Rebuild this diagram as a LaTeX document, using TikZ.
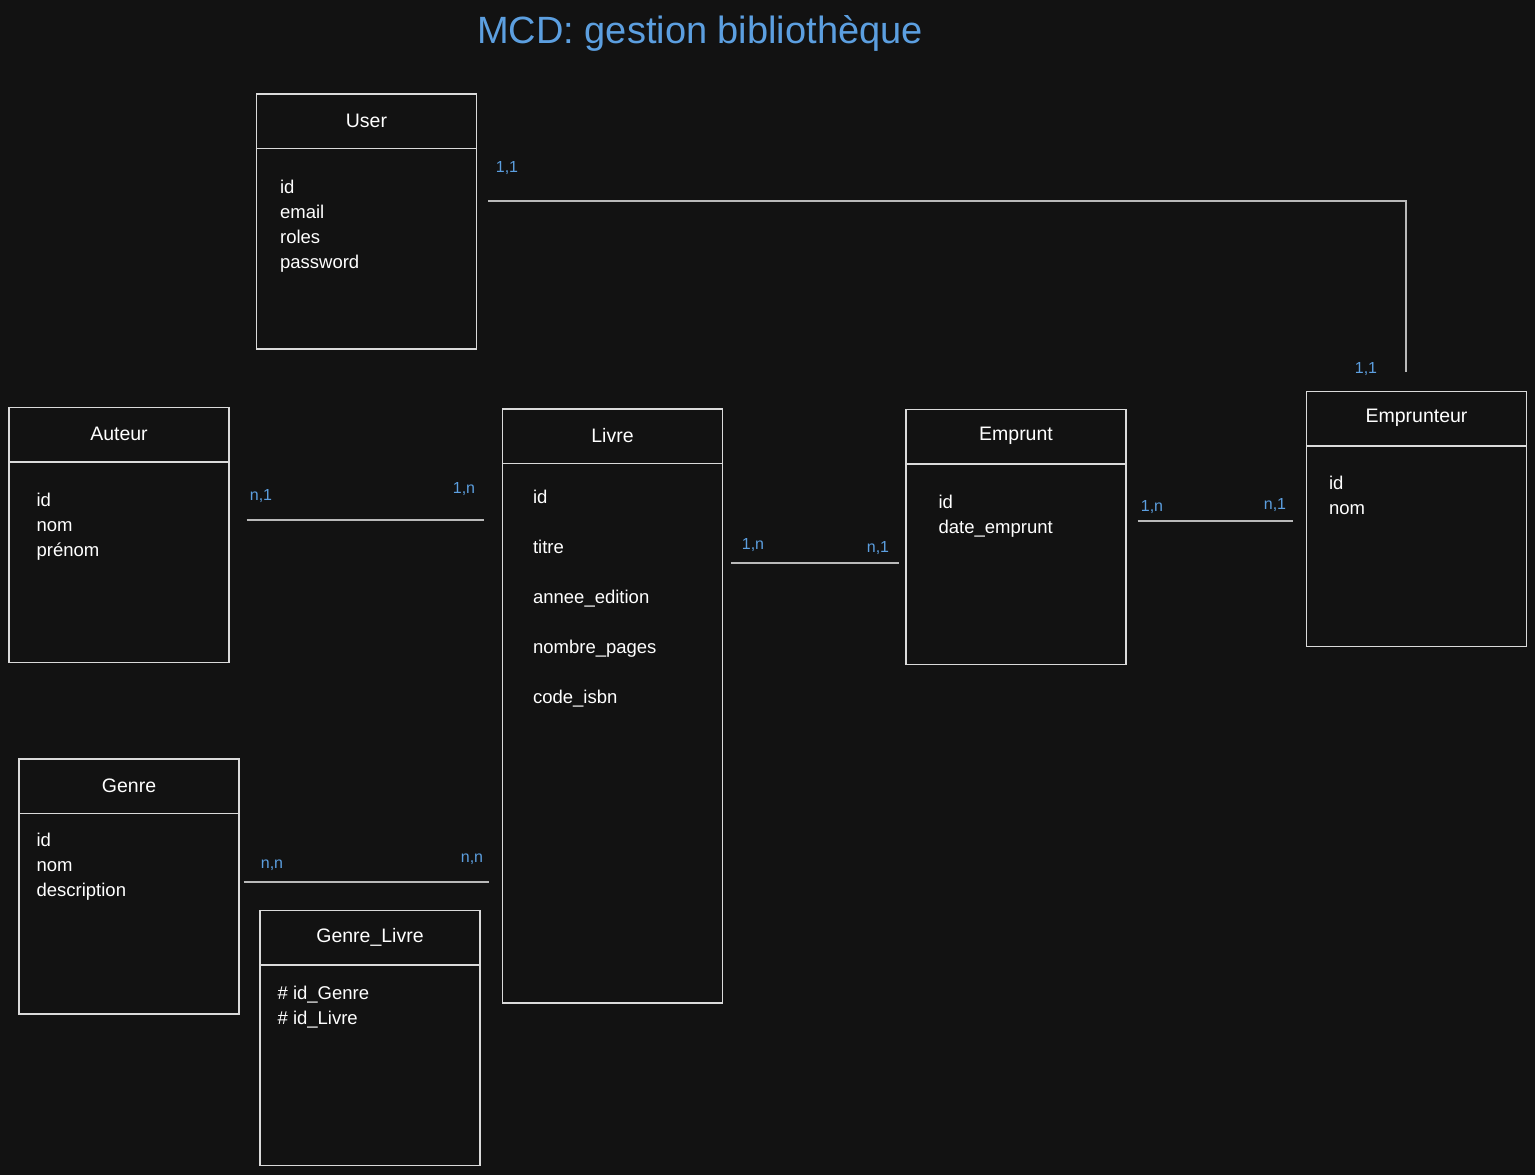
\documentclass[tikz,border=0pt]{standalone}
\usepackage{fontspec}
\setmainfont{Liberation Sans}
\usepackage{tikz}
\usetikzlibrary{positioning}
\definecolor{bgdark}{HTML}{121212}
\definecolor{chalk}{HTML}{DADADA}
\definecolor{skyblue}{HTML}{5C9FE0}

\begin{document}
\begin{tikzpicture}[x=1pt, y=-1pt,
  entity/.style={draw=chalk, line width=1.2pt, rectangle, inner sep=0pt, minimum width=220pt, minimum height=255pt},
  head/.style={text=white, inner sep=0pt, font=\fontsize{19.5}{22}\selectfont},
  attrs/.style={text=white, anchor=north west, inner sep=0pt, align=left, font=\fontsize{18.5}{25}\selectfont},
  rule/.style={draw=chalk, line width=1.2pt},
  link/.style={draw=chalk!85!black, line width=1.2pt},
  card/.style={text=skyblue, inner sep=0pt, font=\fontsize{16}{18}\selectfont}]

%dark background fixes the page
\fill[bgdark] (0,0) rectangle (1535,1175);
\useasboundingbox (0,0) rectangle (1535,1175);

%title
\node[text=skyblue, font=\fontsize{38}{44}\selectfont] (title) at (700,33) {MCD: gestion bibliothèque};

%entities
\node[entity] (user) at (366.5,221.5) {};
\node[entity] (auteur) at (119,535) {};
\node[entity, minimum height=594pt] (livre) at (612.5,706) {};
\node[entity] (emprunt) at (1016,537) {};
\node[entity] (emprunteur) at (1416.5,519) {};
\node[entity] (genre) at (129,886.5) {};
\node[entity] (genrelivre) at (370,1038) {};

%headers
\foreach \e/\t in {user/User, auteur/Auteur, livre/Livre, emprunt/Emprunt, emprunteur/Emprunteur, genre/Genre, genrelivre/Genre\_Livre} {
  \node[head] (\e-t) at ([yshift=-27pt]\e.north) {\t};
  \draw[rule] ([yshift=-55pt]\e.north west) -- ([yshift=-55pt]\e.north east);
}

%attributes
\node[attrs] (user-a) at ([xshift=24pt, yshift=-86pt]user.north west) {id\\email\\roles\\password};
\node[attrs] (auteur-a) at ([xshift=28pt, yshift=-86pt]auteur.north west) {id\\nom\\prénom};
\node[attrs, font=\fontsize{18.5}{50}\selectfont] (livre-a) at ([xshift=31pt, yshift=-81pt]livre.north west) {id\\titre\\annee\_edition\\nombre\_pages\\code\_isbn};
\node[attrs] (emprunt-a) at ([xshift=33pt, yshift=-86pt]emprunt.north west) {id\\date\_emprunt};
\node[attrs] (emprunteur-a) at ([xshift=23pt, yshift=-85pt]emprunteur.north west) {id\\nom};
\node[attrs] (genre-a) at ([xshift=18pt, yshift=-74pt]genre.north west) {id\\nom\\description};
\node[attrs] (genrelivre-a) at ([xshift=18pt, yshift=-76pt]genrelivre.north west) {\#\ id\_Genre\\\#\ id\_Livre};

%user -- emprunteur
\coordinate[above right=20.5pt and 11pt of user.east] (us-r);
\coordinate[above left=19pt and 10.5pt of emprunteur.north] (em-t);
\draw[link] (us-r) -- (us-r -| em-t) -- (em-t);
\node[card] (card-us) at (507,168) {1,1};
\node[card] (card-em) at (1366,369) {1,1};

%auteur -- livre
\coordinate[above=15pt of auteur.east] (au-r);
\draw[link, shorten <=17pt, shorten >=18pt] (au-r) -- (au-r -| livre.west);
\node[card] (card-au) at (261,496) {n,1};
\node[card] (card-li1) at (464,489) {1,n};

%livre -- emprunt
\coordinate[above=143pt of livre.east] (li-r);
\draw[link, shorten <=8pt, shorten >=6pt] (li-r) -- (li-r -| emprunt.west);
\node[card] (card-li2) at (753,545) {1,n};
\node[card] (card-ep1) at (878,548) {n,1};

%emprunt -- emprunteur
\coordinate[above=16pt of emprunt.east] (ep-r);
\draw[link, shorten <=11pt, shorten >=13pt] (ep-r) -- (ep-r -| emprunteur.west);
\node[card] (card-ep2) at (1152,507) {1,n};
\node[card] (card-er) at (1275,505) {n,1};

%genre -- livre
\coordinate[above=4.5pt of genre.east] (ge-r);
\draw[link, shorten <=4pt, shorten >=13pt] (ge-r) -- (ge-r -| livre.west);
\node[card] (card-ge) at (272,865) {n,n};
\node[card] (card-li3) at (472,859) {n,n};

\end{tikzpicture}
\end{document}
